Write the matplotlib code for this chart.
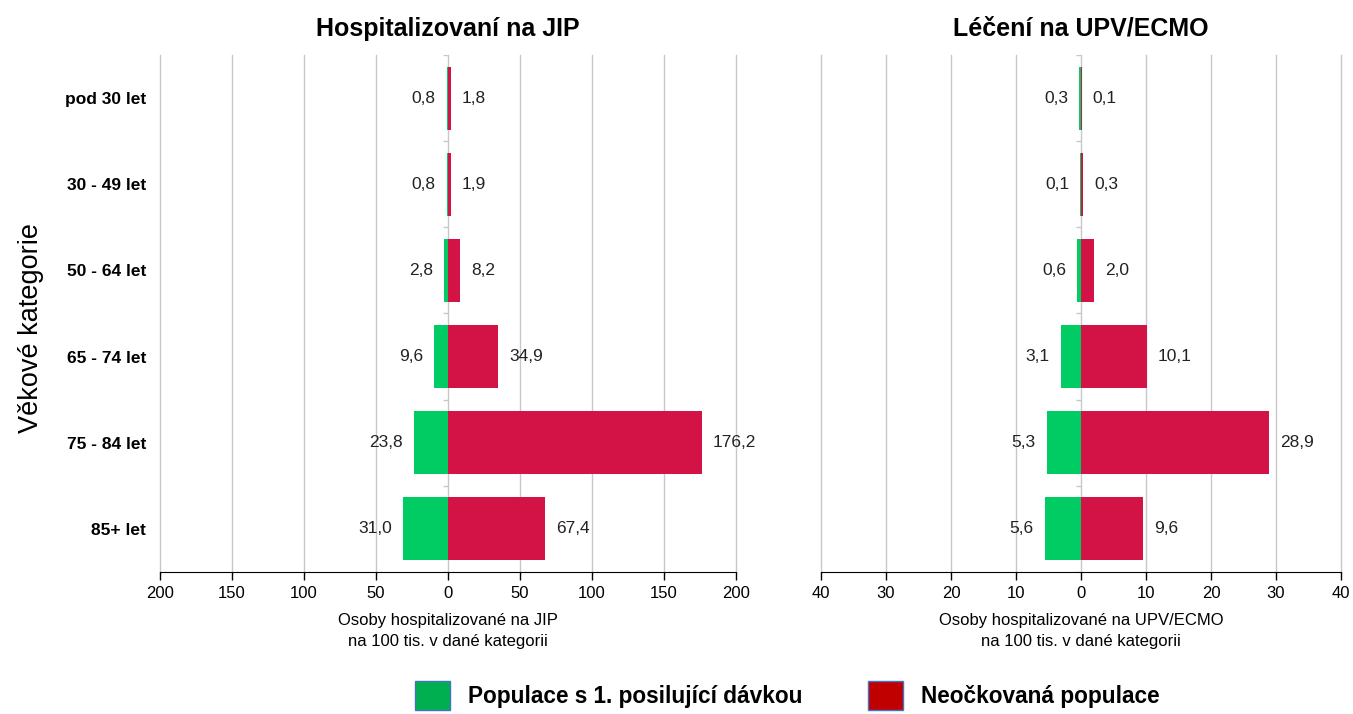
import numpy as np
import matplotlib.pyplot as plt
from matplotlib.patches import Patch

plt.rcParams['font.family'] = ['Liberation Sans', 'DejaVu Sans']

categories = ["pod 30 let", "30 - 49 let", "50 - 64 let", "65 - 74 let", "75 - 84 let", "85+ let"]

# JIP
jip_booster = [0.8, 0.8, 2.8, 9.6, 23.8, 31.0]
jip_unvacc = [1.8, 1.9, 8.2, 34.9, 176.2, 67.4]

# UPV/ECMO
upv_booster = [0.3, 0.1, 0.6, 3.1, 5.3, 5.6]
upv_unvacc = [0.1, 0.3, 2.0, 10.1, 28.9, 9.6]

jip_ticks = [-200, -150, -100, -50, 0, 50, 100, 150, 200]
upv_ticks = [-40, -30, -20, -10, 0, 10, 20, 30, 40]

green = '#00cc63'
red = '#d31245'


def fmt(v):
    return f"{v:.1f}".replace('.', ',')


def draw_panel(ax, booster, unvacc, ticks, title, xlabel):
    y = np.arange(len(categories))
    ax.barh(y, [-b for b in booster], height=0.73, color=green, zorder=3)
    ax.barh(y, unvacc, height=0.73, color=red, zorder=3)
    for yi, b, u in zip(y, booster, unvacc):
        ax.annotate(fmt(b), (-b, yi), xytext=(-8, 0), textcoords='offset points',
                    ha='right', va='center', fontsize=12.5, color='#222222')
        ax.annotate(fmt(u), (u, yi), xytext=(8, 0), textcoords='offset points',
                    ha='left', va='center', fontsize=12.5, color='#222222')
    ax.set_xlim(ticks[0], ticks[-1])
    ax.set_ylim(len(categories) - 0.5, -0.5)
    ax.set_xticks(ticks)
    ax.set_xticklabels([str(abs(t)) for t in ticks], fontsize=12)
    ax.grid(axis='x', color='#c8c8c8', lw=1, zorder=0)
    for g in ax.get_xgridlines():
        g.set_clip_on(False)
    for s in ['top', 'right', 'left']:
        ax.spines[s].set_visible(False)
    ax.spines['bottom'].set_color('black')
    ax.spines['bottom'].set_zorder(4)
    ax.tick_params(axis='x', length=6, width=1, color='black', pad=4)
    ax.tick_params(axis='y', length=0)
    # small marks on zero line at category boundaries
    tl = (ticks[-1] - ticks[0]) * 0.009
    ax.hlines(np.arange(len(categories) + 1) - 0.5, -tl, 0, color='#c8c8c8', lw=1, zorder=2)
    ax.set_title(title, fontsize=18, fontweight='bold', pad=14)
    ax.set_xlabel(xlabel, fontsize=12, labelpad=9, linespacing=1.45)


fig = plt.figure(figsize=(13.53, 7.14), dpi=100)
ax1 = fig.add_axes([0.1183, 0.199, 0.4257, 0.724])
ax2 = fig.add_axes([0.6068, 0.199, 0.3843, 0.724])

draw_panel(ax1, jip_booster, jip_unvacc, jip_ticks, "Hospitalizovaní na JIP",
           "Osoby hospitalizované na JIP\nna 100 tis. v dané kategorii")
draw_panel(ax2, upv_booster, upv_unvacc, upv_ticks, "Léčení na UPV/ECMO",
           "Osoby hospitalizované na UPV/ECMO\nna 100 tis. v dané kategorii")

ax1.set_yticks(np.arange(len(categories)))
ax1.set_yticklabels(categories, fontsize=12.5, fontweight='bold')
ax1.tick_params(axis='y', pad=10)
ax2.set_yticks([])

fig.text(0.023, 0.54, "Věkové kategorie", rotation=90, fontsize=19.5, ha='center', va='center')

handles = [Patch(facecolor='#00b050', edgecolor='#4472c4', lw=1, label='Populace s 1. posilující dávkou'),
           Patch(facecolor='#c00000', edgecolor='#4472c4', lw=1, label='Neočkovaná populace')]
fig.legend(handles=handles, ncol=2, loc='center', bbox_to_anchor=(0.582, 0.026), frameon=False,
           handlelength=1.55, handleheight=1.55, handletextpad=0.8, columnspacing=2.9,
           prop={'weight': 'bold', 'size': 16.3})

fig.savefig('out.png', dpi=100)
